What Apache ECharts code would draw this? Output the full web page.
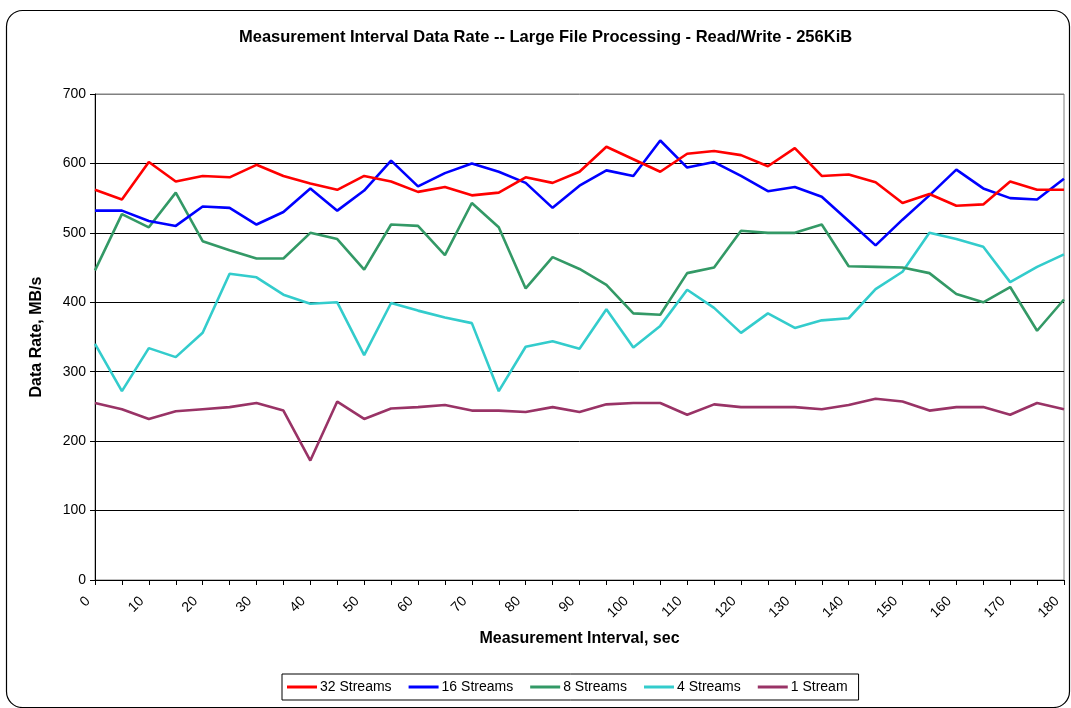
<!DOCTYPE html>
<html>
<head>
<meta charset="utf-8">
<script src="https://cdn.jsdelivr.net/npm/echarts@6/dist/echarts.min.js"></script>
<style>
html,body{margin:0;padding:0;background:#fff;}
#chart{width:1071px;height:708px;}
</style>
</head>
<body>
<div id="chart"></div>
<script>
const categories = [0,5,10,15,20,25,30,35,40,45,50,55,60,65,70,75,80,85,90,95,100,105,110,115,120,125,130,135,140,145,150,155,160,165,170,175,180];
const s32 = [562,548,602,574,582,580,598,582,571,562,582,574,559,566,554,558,580,572,588,624,606,588,614,618,612,596,622,582,584,573,543,556,539,541,574,562,562];
const s16 = [532,532,517,510,538,536,512,530,564,532,561,604,567,586,600,588,572,536,568,590,582,633,594,602,582,560,566,552,517,482,519,554,591,564,550,548,578];
const s8  = [446,527,508,558,488,475,463,463,500,491,447,512,510,468,543,508,420,465,448,425,384,382,442,450,503,500,500,512,452,451,450,442,412,400,422,359,404];
const s4  = [340,272,334,321,356,441,436,411,398,400,324,399,388,378,370,272,336,344,333,390,335,366,418,392,356,384,363,374,377,419,444,500,491,480,429,451,469];
const s1  = [255,246,232,243,246,249,255,244,172,257,232,247,249,252,244,244,242,249,242,253,255,255,238,253,249,249,249,246,252,261,257,244,249,249,238,255,246];
const seriesNames = ['32 Streams','16 Streams','8 Streams','4 Streams','1 Stream'];
const seriesColors = ['#FF0000','#0000FF','#339966','#33CCCC','#993366'];
const seriesData = [s32,s16,s8,s4,s1];
const yTicks = {min:0, max:700, interval:100};

const FONT = 'Arial, "Liberation Sans", sans-serif';
const chart = echarts.init(document.getElementById('chart'), null, {renderer:'canvas'});
chart.setOption({
  animation:false,
  backgroundColor:'#fff',
  graphic:[{
    type:'rect', left:4, top:8, z:-1,
    shape:{width:1063, height:697, r:16},
    style:{fill:'none', stroke:'#000', lineWidth:1.2}
  }],
  title:{
    text:'Measurement Interval Data Rate -- Large File Processing - Read/Write - 256KiB',
    left:234, top:24,
    textStyle:{fontFamily:FONT, fontSize:16.5, fontWeight:'bold', color:'#000'}
  },
  legend:{
    left:282, top:674,
    orient:'horizontal',
    icon:'rect', itemWidth:30, itemHeight:3, itemGap:17,
    padding:[6,11,6,5],
    borderColor:'#000', borderWidth:1, borderRadius:0,
    textStyle:{fontFamily:FONT, fontSize:14, color:'#000', padding:[0,0,0,-2]},
    data:seriesNames
  },
  grid:{left:95, right:7, top:94, bottom:128, show:true, borderColor:'#808080', borderWidth:1, containLabel:false},
  xAxis:{
    type:'category', data:categories, boundaryGap:false,
    name:'Measurement Interval, sec', nameLocation:'middle', nameGap:51,
    nameTextStyle:{fontFamily:FONT, fontSize:16, fontWeight:'bold', color:'#000'},
    axisLine:{lineStyle:{color:'#000', width:1}},
    axisTick:{show:true, interval:0, length:5, inside:false, lineStyle:{color:'#000'}},
    axisLabel:{interval:1, rotate:45, margin:12, padding:[0,10,0,0], fontFamily:FONT, fontSize:14, color:'#000'},
    splitLine:{show:false}
  },
  yAxis:{
    type:'value', min:yTicks.min, max:yTicks.max, interval:yTicks.interval,
    name:'Data Rate, MB/s', nameLocation:'middle', nameGap:50, nameRotate:90,
    nameTextStyle:{fontFamily:FONT, fontSize:16, fontWeight:'bold', color:'#000'},
    axisLine:{show:true, lineStyle:{color:'#000', width:1}},
    axisTick:{show:true, length:5, lineStyle:{color:'#000'}},
    axisLabel:{margin:9, fontFamily:FONT, fontSize:14, color:'#000'},
    splitLine:{show:true, lineStyle:{color:['#000','#000','#000','#000','#000','#000','#000','#808080'], width:1}}
  },
  series: seriesNames.map((n,i)=>({
    name:n, type:'line', data:seriesData[i],
    showSymbol:false, symbol:'none',
    lineStyle:{color:seriesColors[i], width:2.6},
    itemStyle:{color:seriesColors[i]},
    z:10-i
  }))
});
</script>
</body>
</html>
